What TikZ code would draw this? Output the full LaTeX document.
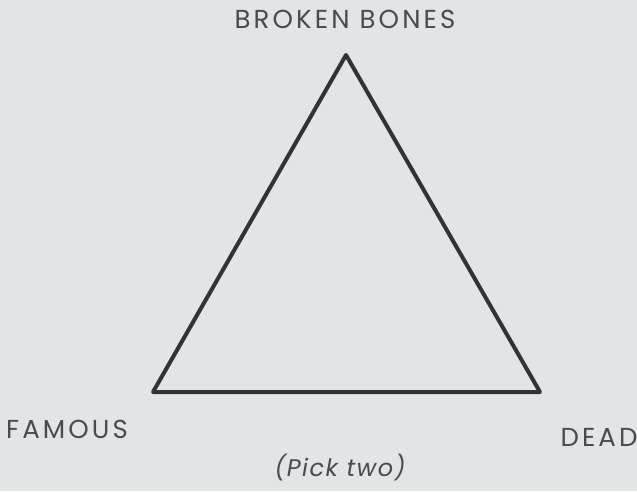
\documentclass[tikz,border=0pt]{standalone}
\usepackage{fontspec}
\setmainfont{Poppins}[LetterSpace=12]
\newfontfamily\pickfont{Poppins}[LetterSpace=6]
\definecolor{bg}{HTML}{E1E5E5}
\definecolor{txt}{HTML}{4A4A50}
\definecolor{edge}{HTML}{333336}
\begin{document}
\begin{tikzpicture}[x=1pt,y=-1pt,
  lab/.style={text=txt,font=\fontsize{26}{28}\selectfont,inner sep=0pt,anchor=center},
  tri/.style={draw=edge,line width=4pt,line join=round}]
\fill[bg] (0,0) rectangle (637,491);
\useasboundingbox (0,0) rectangle (637,491);
\coordinate (top) at (346,55);
\coordinate (bl) at (153,392);
\coordinate (br) at (540,392);
\draw[tri] (top) -- (bl) -- (br) -- cycle;
\node[lab] (bb) at (345,19) {BROKEN BONES};
\node[lab] (fam) at (67,429) {FAMOUS};
\node[lab] (dead) at (599,437) {DEAD};
\node[lab,font=\pickfont\itshape\fontsize{24}{26}\selectfont] (pick) at (340,468) {(Pick two)};
\end{tikzpicture}
\end{document}
